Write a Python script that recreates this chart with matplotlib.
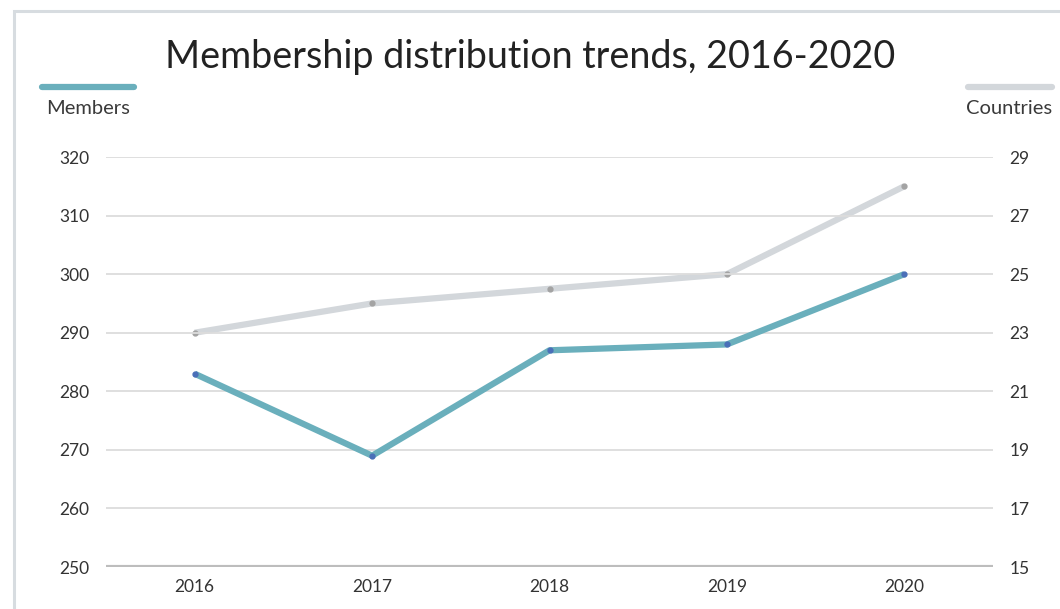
import matplotlib.pyplot as plt
from matplotlib.patches import Rectangle
from matplotlib.lines import Line2D

years = ["2016", "2017", "2018", "2019", "2020"]
members = [283, 269, 287, 288, 300]
countries = [23, 24, 24.5, 25, 28]

member_ticks = [250, 260, 270, 280, 290, 300, 310, 320]
country_ticks = [15, 17, 19, 21, 23, 25, 27, 29]

teal = "#6aafbc"
light = "#d3d7db"
grid_col = "#dcdcdc"
text_col = "#333333"

plt.rcParams["font.family"] = ["Lato", "DejaVu Sans"]

fig = plt.figure(figsize=(10.6, 6.09), dpi=100)
W, H = 1060, 609

# frame around the card
fig.patches.append(Rectangle((14 / W, -0.1), 1.2, 1 - 11 / H + 0.1,
                             transform=fig.transFigure, fill=False,
                             edgecolor="#d7dce0", lw=2.2, zorder=0))

ax = fig.add_axes([106 / W, 1 - 567 / H, (993 - 106) / W, (567 - 157) / H])
ax2 = ax.twinx()

x = list(range(len(years)))

ax2.plot(x, countries, color=light, lw=4.5, solid_capstyle="butt", zorder=2)
ax2.plot(x, countries, "o", color="#a3a3a3", ms=3.5, zorder=3)
ax.plot(x, members, color=teal, lw=4.5, solid_capstyle="butt", zorder=4)
ax.plot(x, members, "o", color="#4a6fb8", ms=3.5, zorder=5)
ax.set_zorder(ax2.get_zorder() + 1)
ax.patch.set_visible(False)

ax.set_xlim(-0.5, 4.5)
ax.set_ylim(250, 320)
ax2.set_ylim(15, 29)
ax.set_yticks(member_ticks)
ax2.set_yticks(country_ticks)
ax.set_xticks(x)
ax.set_xticklabels(years)

for a in (ax, ax2):
    for s in a.spines.values():
        s.set_visible(False)
    a.tick_params(length=0, labelsize=12.5, colors=text_col)
ax.tick_params(axis="y", pad=12)
ax2.tick_params(axis="y", pad=12)
ax.tick_params(axis="x", pad=9)

for t in member_ticks[1:]:
    ax.axhline(t, color=grid_col, lw=1.3, zorder=0)
ax.axhline(250, color="#bdbdbd", lw=3, zorder=1)

fig.text(0.5, 1 - 57 / H, "Membership distribution trends, 2016-2020",
         ha="center", va="center", fontsize=27.2, color="#222222")

# series keys
fig.add_artist(Line2D([42 / W, 134 / W], [1 - 87 / H] * 2, color=teal, lw=4.5,
                      solid_capstyle="round", transform=fig.transFigure))
fig.text(88 / W, 1 - 108 / H, "Members", ha="center", va="center",
         fontsize=14.5, color="#3a3a3a")
fig.add_artist(Line2D([968 / W, 1052 / W], [1 - 87 / H] * 2, color=light, lw=4.5,
                      solid_capstyle="round", transform=fig.transFigure))
fig.text(1009 / W, 1 - 108 / H, "Countries", ha="center", va="center",
         fontsize=14.5, color="#3a3a3a")

fig.savefig("out.png", dpi=100)
